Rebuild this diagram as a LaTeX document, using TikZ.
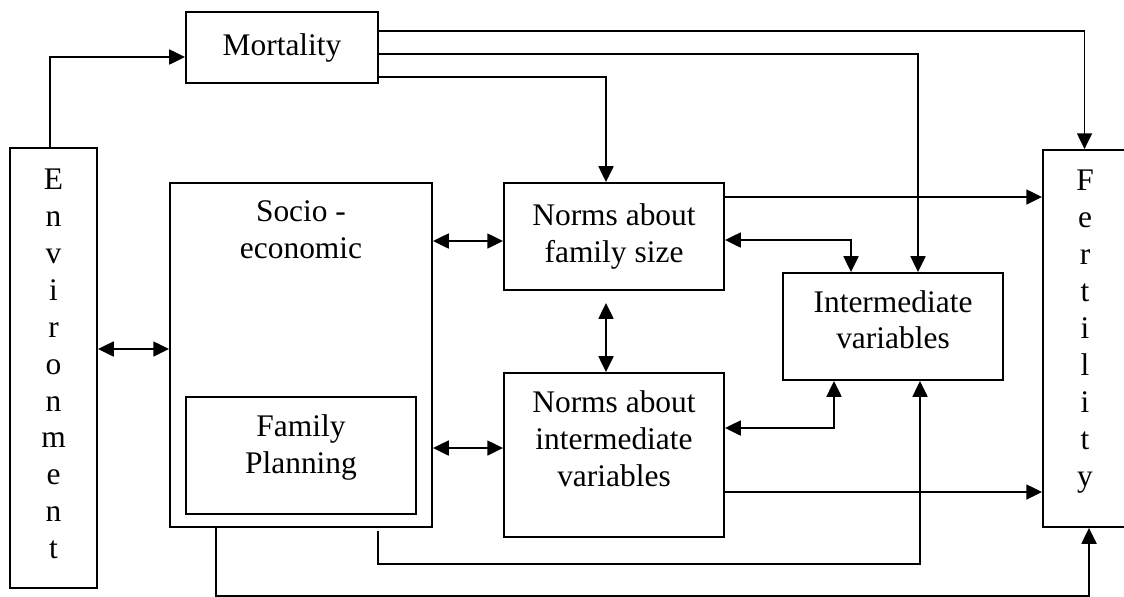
\documentclass[tikz,border=0pt]{standalone}
\usepackage{fontspec}
\setmainfont{Liberation Serif}
\usepackage{tikz}
\usetikzlibrary{arrows.meta,calc}

\begin{document}
\begin{tikzpicture}[x=0.02cm,y=-0.02cm,line width=1.1pt,
  frameBox/.style={draw,rectangle,inner sep=0pt,align=center,font=\fontsize{17.9}{21}\selectfont},
  textOnly/.style={inner sep=0pt,align=center,font=\fontsize{17.9}{21}\selectfont},
  okTek/.style={-{Triangle[length=9pt,width=8.5pt]}},
  okCift/.style={{Triangle[length=9pt,width=8.5pt]}-{Triangle[length=9pt,width=8.5pt]}}]
\useasboundingbox (0,0) rectangle (1124,596);
\node[frameBox,minimum width=3.84cm,minimum height=1.42cm] (mort) at (282,47.5) {Mortality};
\node[frameBox,minimum width=1.74cm,minimum height=8.8cm] (env) at (53.5,368) {};
\node[textOnly] (envTxt) at (53.5,364) {E\\n\\v\\i\\r\\o\\n\\m\\e\\n\\t};
\node[frameBox,minimum width=5.24cm,minimum height=6.88cm] (socio) at (301,355) {};
\node[textOnly] (socioTxt) at (301,230) {Socio -\\economic};
\node[frameBox,minimum width=4.6cm,minimum height=2.34cm] (fp) at (301,455.5) {};
\node[textOnly] (fpTxt) at (301,447.5) {Family\\Planning};
\node[frameBox,minimum width=4.4cm,minimum height=2.14cm] (nfs) at (614,236.5) {Norms about\\family size};
\node[frameBox,minimum width=4.4cm,minimum height=3.28cm] (niv) at (614,455) {};
\node[textOnly] (nivTxt) at (614,439) {Norms about\\intermediate\\variables};
\node[frameBox,minimum width=4.4cm,minimum height=2.14cm] (inter) at (893,326.5) {};
\node[textOnly] (interTxt) at (893,319.7) {Intermediate\\variables};
\node[frameBox,minimum width=1.66cm,minimum height=7.54cm] (fert) at (1084.5,338.5) {};
\node[textOnly] (fertTxt) at (1085,331.5) {F\\e\\r\\t\\i\\l\\i\\t\\y};
\draw[okTek] (env.north -| 50,0) |- (mort.west |- 0,57);
\draw[okTek] (mort.east |- 0,31) -| (fert.north);
\draw[okTek] (mort.east |- 0,54) -| (inter.north -| 918,0);
\draw[okTek] (mort.east |- 0,77) -| (nfs.north -| 606,0);
\draw[okCift] (env.east |- 0,349) -- (socio.west |- 0,349);
\draw[okCift] (socio.east |- 0,241) -- (nfs.west |- 0,241);
\draw[okCift] (socio.east |- 0,448) -- (niv.west |- 0,448);
\draw[okCift] ($(nfs.south -| 606,0)+(0,12)$) -- (niv.north -| 606,0);
\draw[okTek] (nfs.east |- 0,197) -- (fert.west |- 0,197);
\draw[okCift] (nfs.east |- 0,240) -| (inter.north -| 851,0);
\draw[okCift] (niv.east |- 0,428) -| (inter.south -| 834,0);
\draw[okTek] (niv.east |- 0,492) -- (fert.west |- 0,492);
\draw[okTek] ($(socio.south -| 378,0)+(0,3)$) |- ($(inter.south -| 920,0)+(0,183)$) -- (inter.south -| 920,0);
\draw[okTek] (socio.south -| 216,0) |- ($(fert.south -| 1089,0)+(0,68)$) -- (fert.south -| 1089,0);
\end{tikzpicture}
\end{document}
